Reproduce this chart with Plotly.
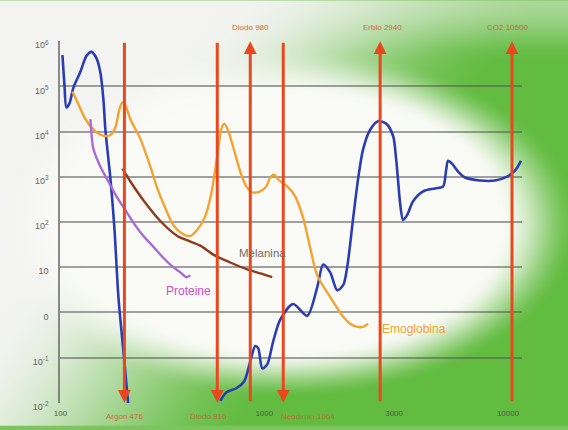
import base64, struct, zlib
import numpy as np
import plotly.graph_objects as go

# ---------------- data ----------------
# x positions are in the chart's own schematic wavelength scale
# (0 = "100", 10 = "10000"); y values are absorption coefficients (log axis)
acqua_x = [0.045, 0.089, 0.134, 0.201, 0.290, 0.446, 0.580, 0.692, 0.804, 0.893, 0.960, 1.004, 1.071,
           1.116, 1.205, 1.295, 1.406, 1.518, None,
           3.571, 3.705, 3.929, 4.107, 4.241, 4.353, 4.420, 4.509, 4.621, 4.754, 4.911, 5.201, 5.513,
           5.737, 5.871, 6.027, 6.183, 6.317, 6.406, 6.540, 6.652, 6.763, 6.920, 7.098, 7.277, 7.433,
           7.500, 7.545, 7.589, 7.656, 7.746, 7.879, 8.103, 8.371, 8.549, 8.616, 8.661, 8.750, 8.884,
           9.040, 9.375, 9.710, 9.978, 10.156, 10.290]
acqua_y = [4.9e5, 1.1e5, 3.4e4, 4.2e4, 9.4e4, 2.1e5, 4.7e5, 5.8e5, 4.2e5, 2.0e5, 5.1e4, 1.1e4, 2.5e3,
           9.2e2, 74, 2.2, 0.14, 0.0086, None,
           0.011, 0.017, 0.021, 0.030, 0.083, 0.18, 0.16, 0.058, 0.071, 0.23, 0.69, 1.53, 0.84,
           3.6, 11.5, 7.7, 3.1, 4.0, 9.9, 122, 920, 4.1e3, 1.1e4, 1.7e4, 1.5e4, 8.0e3,
           2.5e3, 790, 260, 111, 142, 288, 476, 553, 612, 1.37e3, 2.26e3, 1.95e3, 1.30e3,
           964, 828, 828, 1.01e3, 1.37e3, 2.26e3]

emo_x = [0.268, 0.402, 0.536, 0.670, 0.826, 0.982, 1.116, 1.228, 1.317, 1.384, 1.451, 1.563, 1.786,
         2.009, 2.165, 2.344, 2.522, 2.723, 2.902, 3.058, 3.237, 3.371, 3.504, 3.594, 3.661, 3.750,
         3.884, 4.018, 4.152, 4.286, 4.464, 4.598, 4.688, 4.777, 4.866, 5.067, 5.246, 5.424, 5.580,
         5.737, 6.027, 6.317, 6.473, 6.629, 6.763, 6.875]
emo_y = [7.7e4, 4.0e4, 2.07e4, 1.32e4, 9.3e3, 8.0e3, 8.4e3, 1.25e4, 3.1e4, 4.4e4, 3.8e4, 1.87e4, 6.9e3,
         1.67e3, 553, 202, 86, 55, 49, 67, 135, 430, 2.9e3, 1.13e4, 1.5e4, 1.03e4,
         3.75e3, 1.30e3, 612, 453, 476, 612, 964, 1.12e3, 871, 612, 370, 122, 27,
         6.6, 2.18, 0.80, 0.56, 0.48, 0.48, 0.56]

prot_x = [0.670, 0.737, 0.893, 1.071, 1.250, 1.451, 1.652, 1.853, 2.054, 2.277, 2.500, 2.679, 2.813, 2.902]
prot_y = [1.87e4, 4.1e3, 1.67e3, 787, 370, 183, 90, 49, 30, 17, 10.4, 7.7, 6.0, 6.6]

mel_x = [1.384, 1.563, 1.853, 2.232, 2.612, 2.902, 3.125, 3.415, 3.795, 4.174, 4.464, 4.732]
mel_y = [1.51e3, 787, 303, 105, 49, 37, 30, 19, 12.7, 8.9, 7.3, 6.0]

# lasers: name, position on the schematic scale, arrow direction
laser_names = ["Argon 476", "Diodo 810", "Diodo 980", "Neodimio 1064", "Erbio 2940", "CO2 10600"]
laser_x = [1.429, 3.504, 4.241, 4.978, 7.143, 10.089]
laser_dir = ["down", "down", "up", "down", "up", "up"]

x_tickvals = [0, 4.554, 7.455, 10.0]
x_ticktext = ["100", "1000", "3000", "10000"]
y_tickvals = [1e6, 1e5, 1e4, 1e3, 1e2, 1e1, 1e0, 1e-1, 1e-2]
y_ticktext = ["10<sup>6</sup>", "10<sup>5</sup>", "10<sup>4</sup>", "10<sup>3</sup>", "10<sup>2</sup>",
              "10", "0", "10<sup>-1</sup>", "10<sup>-2</sup>"]

# ---------------- background (green with white glow) ----------------
W, H = 568, 430
XX, YY = np.meshgrid(np.arange(W) + 0.5, np.arange(H) + 0.5)
def smooth(t):
    t = np.clip(t, 0, 1)
    return t * t * (3 - 2 * t)
f = smooth((0.95 * XX / W + 0.5 * YY / H - 0.38) / 0.55)
f = f * (1 - 0.5 * smooth((65 - YY) / 65))
white = np.array([243, 244, 241], float)
green = np.array([98, 188, 64], float)
base = white * (1 - f)[..., None] + green * f[..., None]
d = np.sqrt(((XX - 285) / 290) ** 2 + ((YY - 225) / 175) ** 2)
g = smooth((1.02 - d) / 0.28)
glowc = np.array([250, 251, 246], float)
img = (base * (1 - g)[..., None] + glowc * g[..., None]).clip(0, 255).astype(np.uint8)

def png_bytes(a):
    h, w, _ = a.shape
    raw = b"".join(b"\x00" + a[r].tobytes() for r in range(h))
    def chunk(t, data):
        c = struct.pack(">I", len(data)) + t + data
        return c + struct.pack(">I", zlib.crc32(t + data) & 0xffffffff)
    return (b"\x89PNG\r\n\x1a\n" + chunk(b"IHDR", struct.pack(">IIBBBBB", w, h, 8, 2, 0, 0, 0))
            + chunk(b"IDAT", zlib.compress(raw, 9)) + chunk(b"IEND", b""))

bg_uri = "data:image/png;base64," + base64.b64encode(png_bytes(img)).decode()

# ---------------- figure ----------------
ML, MR, MT, MB = 60, 46, 41, 23
PW, PH = W - ML - MR, H - MT - MB

fig = go.Figure()
fig.add_trace(go.Scatter(x=acqua_x, y=acqua_y, mode="lines", line=dict(color="#2b3db3", width=2.6, shape="spline", smoothing=0.8), connectgaps=False, hoverinfo="skip"))
fig.add_trace(go.Scatter(x=emo_x, y=emo_y, mode="lines", line=dict(color="#f5a232", width=2.4, shape="spline", smoothing=0.8), hoverinfo="skip"))
fig.add_trace(go.Scatter(x=prot_x, y=prot_y, mode="lines", line=dict(color="#a86ad8", width=2.4, shape="spline", smoothing=0.8), hoverinfo="skip"))
fig.add_trace(go.Scatter(x=mel_x, y=mel_y, mode="lines", line=dict(color="#8e3b1e", width=2.4, shape="spline", smoothing=0.8), hoverinfo="skip"))

ann = []
arrow_col = "#e9481f"
lab_col = "#d06a38"
for name, xv, dr in zip(laser_names, laser_x, laser_dir):
    tip, tail = (-2, 6) if dr == "down" else (6, -2)
    ann.append(dict(x=xv, y=tip, ax=xv, ay=tail, xref="x", yref="y", axref="x", ayref="y",
                    text="", showarrow=True, arrowhead=2, arrowsize=0.85, arrowwidth=3,
                    arrowcolor=arrow_col, standoff=0))
label_style = {
    "Argon 476": dict(y=0, yshift=-13, xanchor="center", xshift=0, color=lab_col),
    "Diodo 810": dict(y=0, yshift=-13, xanchor="center", xshift=-9, color="#b8703a"),
    "Neodimio 1064": dict(y=0, yshift=-13, xanchor="left", xshift=-4, color="#b8703a"),
    "Diodo 980": dict(y=1, yshift=14, xanchor="center", xshift=0, color=lab_col),
    "Erbio 2940": dict(y=1, yshift=14, xanchor="center", xshift=2, color=lab_col),
    "CO2 10600": dict(y=1, yshift=14, xanchor="center", xshift=-5, color="#b8703a"),
}
for name, xv in zip(laser_names, laser_x):
    st = dict(label_style[name])
    col = st.pop("color")
    ann.append(dict(x=xv, xref="x", yref="paper", text=name, showarrow=False, yanchor="middle",
                    font=dict(size=8, color=col, family="Liberation Sans"), **st))

curve_labels = [
    ("Acqua", 10.335, 3.29, "left", "#2f5c8e", 11),
    ("Melanina", 4.51, 1.32, "center", "#7f6860", 11.5),
    ("Proteine", 2.857, 0.47, "center", "#d04cc8", 12),
    ("Emoglobina", 7.14, -0.36, "left", "#f2a232", 12),
]
for t, xv, yv, xa, c, s in curve_labels:
    ann.append(dict(x=xv, y=yv, xref="x", yref="y", text=t, showarrow=False, xanchor=xa,
                    yanchor="middle", font=dict(size=s, color=c, family="Liberation Sans")))

fig.update_layout(
    width=W, height=H,
    margin=dict(l=ML, r=MR, t=MT, b=MB, pad=0),
    paper_bgcolor="#7cc55e",
    plot_bgcolor="rgba(0,0,0,0)",
    showlegend=False,
    font=dict(family="Liberation Sans"),
    annotations=ann,
    images=[dict(source=bg_uri, xref="paper", yref="paper", x=-ML / PW, y=1 + MT / PH,
                 sizex=W / PW, sizey=H / PH, xanchor="left", yanchor="top",
                 sizing="stretch", layer="below")],
    xaxis=dict(range=[-0.01, 10.3125], tickvals=x_tickvals, ticktext=x_ticktext, showgrid=False,
               zeroline=False, showline=False, ticks="", ticklabelstandoff=4,
               tickfont=dict(size=8, color="#555555")),
    yaxis=dict(type="log", range=[-2.004, 6.004], tickvals=y_tickvals, ticktext=y_ticktext,
               showgrid=True, gridcolor="rgba(85,85,85,0.55)", gridwidth=1.5,
               showline=True, linecolor="rgba(110,110,110,0.8)", linewidth=1.5,
               zeroline=False, ticks="", ticklabelstandoff=8, ticklabelshift=4,
               tickfont=dict(size=9, color="#666666")),
)

fig.write_html("out.html", config={"displayModeBar": False},
               post_script="document.body.style.margin='0';document.body.style.overflow='hidden';")
